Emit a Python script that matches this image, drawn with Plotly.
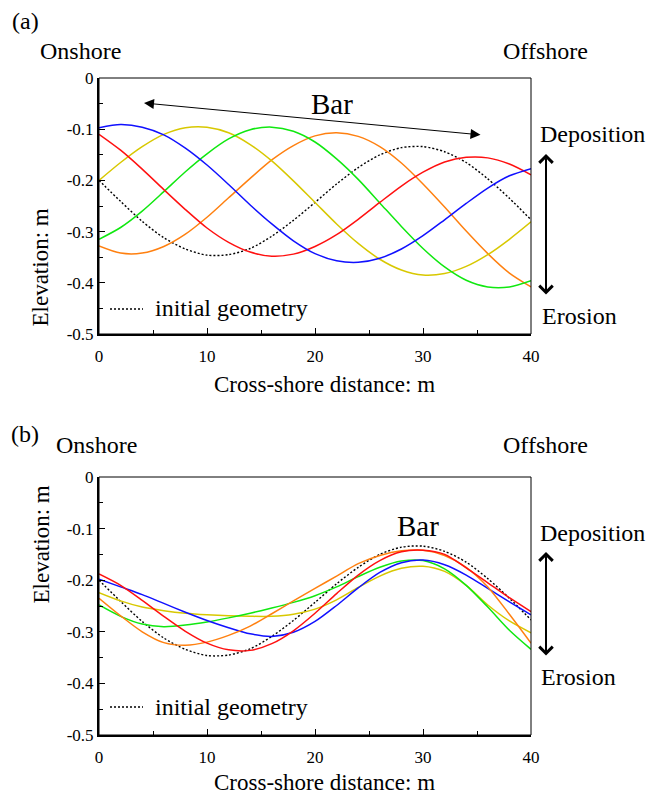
import plotly.graph_objects as go

W, H = 659, 797

# ---------------- data ----------------
distance = [0, 2, 4, 6, 8, 10, 12, 14, 16, 18, 20, 22, 24, 26, 28, 30, 32, 34, 36, 38, 40]

initial_geometry = [-0.200, -0.241, -0.280, -0.312, -0.334, -0.346, -0.345, -0.333, -0.309, -0.278,
                    -0.243, -0.207, -0.175, -0.150, -0.136, -0.134, -0.144, -0.165, -0.197, -0.235, -0.277]

# panel (a)
a_blue = [-0.097, -0.091, -0.096, -0.111, -0.137, -0.170, -0.208, -0.248, -0.285, -0.318,
          -0.343, -0.357, -0.360, -0.352, -0.334, -0.308, -0.277, -0.245, -0.215, -0.191, -0.177]
a_yellow = [-0.200, -0.165, -0.134, -0.110, -0.097, -0.096, -0.107, -0.130, -0.162, -0.201,
            -0.243, -0.285, -0.323, -0.354, -0.375, -0.385, -0.382, -0.368, -0.345, -0.315, -0.281]
a_green = [-0.315, -0.292, -0.260, -0.222, -0.183, -0.148, -0.119, -0.101, -0.096, -0.104,
           -0.125, -0.158, -0.198, -0.244, -0.290, -0.333, -0.369, -0.395, -0.408, -0.408, -0.396]
a_orange = [-0.328, -0.342, -0.342, -0.329, -0.305, -0.272, -0.234, -0.196, -0.160, -0.132,
            -0.113, -0.107, -0.114, -0.134, -0.166, -0.207, -0.252, -0.299, -0.343, -0.381, -0.408]
a_red = [-0.110, -0.141, -0.178, -0.218, -0.257, -0.293, -0.321, -0.340, -0.348, -0.344,
         -0.329, -0.306, -0.276, -0.243, -0.211, -0.184, -0.164, -0.155, -0.156, -0.168, -0.189]

# panel (b)
b_red = [-0.188, -0.210, -0.239, -0.270, -0.299, -0.322, -0.335, -0.336, -0.323, -0.298,
         -0.264, -0.226, -0.190, -0.162, -0.145, -0.142, -0.150, -0.176, -0.205, -0.234, -0.261]
b_orange = [-0.235, -0.269, -0.300, -0.321, -0.326, -0.320, -0.307, -0.289, -0.265, -0.240,
            -0.216, -0.192, -0.168, -0.152, -0.143, -0.142, -0.152, -0.175, -0.213, -0.266, -0.322]
b_blue = [-0.198, -0.213, -0.228, -0.245, -0.262, -0.278, -0.292, -0.304, -0.309, -0.301,
          -0.280, -0.249, -0.215, -0.185, -0.166, -0.161, -0.170, -0.190, -0.216, -0.242, -0.267]
b_green = [-0.248, -0.270, -0.285, -0.290, -0.287, -0.281, -0.273, -0.264, -0.254, -0.243,
           -0.230, -0.213, -0.193, -0.175, -0.163, -0.162, -0.178, -0.210, -0.252, -0.297, -0.334]
b_yellow = [-0.224, -0.240, -0.252, -0.259, -0.264, -0.267, -0.269, -0.270, -0.270, -0.266,
            -0.256, -0.238, -0.214, -0.192, -0.177, -0.173, -0.183, -0.210, -0.248, -0.279, -0.302]

x_tickvals = [0, 10, 20, 30, 40]
x_ticktext = ["0", "10", "20", "30", "40"]
y_tickvals = [0, -0.1, -0.2, -0.3, -0.4, -0.5]
y_ticktext = ["0", "-0.1", "-0.2", "-0.3", "-0.4", "-0.5"]

RED, ORANGE, YELLOW, GREEN, BLUE = "#ff1010", "#ff8010", "#d8c800", "#10e810", "#1010ff"
FONT = "Liberation Serif, Times New Roman, DejaVu Serif, serif"

fig = go.Figure()

def add_panel(series, xa, ya):
    fig.add_trace(go.Scatter(x=distance, y=initial_geometry, mode="lines", xaxis=xa, yaxis=ya,
                             line=dict(color="black", width=1.4, dash="2px,2px", shape="spline", smoothing=0.8),
                             showlegend=False, hoverinfo="skip"))
    for ys, col in series:
        fig.add_trace(go.Scatter(x=distance, y=ys, mode="lines", xaxis=xa, yaxis=ya,
                                 line=dict(color=col, width=1.5, shape="spline", smoothing=0.8),
                                 showlegend=False, hoverinfo="skip"))

add_panel([(a_orange, ORANGE), (a_yellow, YELLOW), (a_green, GREEN), (a_red, RED), (a_blue, BLUE)], "x", "y")
add_panel([(b_yellow, YELLOW), (b_green, GREEN), (b_blue, BLUE), (b_orange, ORANGE), (b_red, RED)], "x2", "y2")

def xax(dom, anchor):
    return dict(domain=dom, anchor=anchor, range=[0, 40], tickvals=x_tickvals, ticktext=x_ticktext,
                ticks="inside", ticklen=6, tickwidth=1, tickcolor="black", ticklabelstandoff=6,
                minor=dict(ticks="inside", ticklen=4, dtick=5, tickcolor="black", tickwidth=1),
                showline=True, linewidth=2, linecolor="black", showgrid=False, zeroline=False,
                automargin=False,
                tickfont=dict(family=FONT, size=17, color="black"), fixedrange=True)

def yax(dom, anchor):
    return dict(domain=dom, anchor=anchor, range=[-0.5, 0], tickvals=y_tickvals, ticktext=y_ticktext,
                ticks="inside", ticklen=6, tickwidth=1, tickcolor="black",
                minor=dict(ticks="inside", ticklen=4, dtick=0.05, tickcolor="black", tickwidth=1),
                showline=True, linewidth=2, linecolor="black", showgrid=False, zeroline=False,
                automargin=False,
                tickfont=dict(family=FONT, size=17, color="black"), fixedrange=True)

xd = [99 / W, 531 / W]
fig.update_layout(
    template="none",
    width=W, height=H, autosize=False,
    margin=dict(l=0, r=0, t=0, b=0, pad=0, autoexpand=False),
    paper_bgcolor="white", plot_bgcolor="white",
    font=dict(family=FONT, color="black"),
    xaxis=xax(xd, "y"), yaxis=yax([1 - 334 / H, 1 - 78 / H], "x"),
    xaxis2=xax(xd, "y2"), yaxis2=yax([1 - 735 / H, 1 - 477 / H], "x2"),
    showlegend=False,
)

shapes = []
for xr, yr in [("x domain", "y domain"), ("x2 domain", "y2 domain")]:
    shapes.append(dict(type="rect", xref=xr, yref=yr, x0=0, x1=1, y0=0, y1=1,
                       line=dict(color="black", width=1)))
for yy in [309, 707]:
    shapes.append(dict(type="line", xref="paper", yref="paper", x0=110 / W, x1=143 / W,
                       y0=1 - yy / H, y1=1 - yy / H, line=dict(color="black", width=1.3, dash="2px,2px")))
fig.update_layout(shapes=shapes)

def txt(s, x, y, size=24, xanchor="center"):
    return dict(text=s, x=x / W, y=1 - y / H, xref="paper", yref="paper", showarrow=False,
                xanchor=xanchor, yanchor="middle", font=dict(family=FONT, size=size, color="black"))

ann = [
    txt("(a)", 25, 21), txt("Onshore", 80, 51), txt("Offshore", 545, 51),
    txt("Bar", 332, 104, size=29), txt("Deposition", 592, 134), txt("Erosion", 579, 316),
    txt("initial geometry", 153, 308, xanchor="left"),
    dict(text="Elevation: m", x=26 / W, y=1 - 207 / H, xref="paper", yref="paper", showarrow=False,
         textangle=-90, font=dict(family=FONT, size=23, color="black")),
    txt("Cross-shore distance: m", 324, 384, size=23),
    txt("(b)", 25, 434), txt("Onshore", 96, 445), txt("Offshore", 545, 445),
    txt("Bar", 418, 526, size=29), txt("Deposition", 592, 533), txt("Erosion", 578, 677),
    txt("initial geometry", 153, 707, xanchor="left"),
    dict(text="Elevation: m", x=26 / W, y=1 - 606 / H, xref="paper", yref="paper", showarrow=False,
         textangle=-90, font=dict(family=FONT, size=23, color="black")),
    txt("Cross-shore distance: m", 324, 782, size=23),
    # bar migration arrow (a)
    dict(text="", x=144 / W, y=1 - 103 / H, xref="paper", yref="paper", showarrow=True,
         ax=338, ay=32, arrowside="end+start", arrowhead=2, arrowsize=2.0, arrowwidth=1, arrowcolor="black"),
    # deposition / erosion arrows
    dict(text="", x=546 / W, y=1 - 154 / H, xref="paper", yref="paper", showarrow=True,
         ax=0, ay=142, arrowside="end+start", arrowhead=4, arrowsize=1.3, arrowwidth=2, arrowcolor="black"),
    dict(text="", x=546 / W, y=1 - 552 / H, xref="paper", yref="paper", showarrow=True,
         ax=0, ay=105, arrowside="end+start", arrowhead=4, arrowsize=1.3, arrowwidth=2, arrowcolor="black"),
]
fig.update_layout(annotations=ann)

fig.write_html("out.html", config={"displayModeBar": False, "staticPlot": True},
               post_script="document.body.style.margin='0';document.body.style.padding='0';")
